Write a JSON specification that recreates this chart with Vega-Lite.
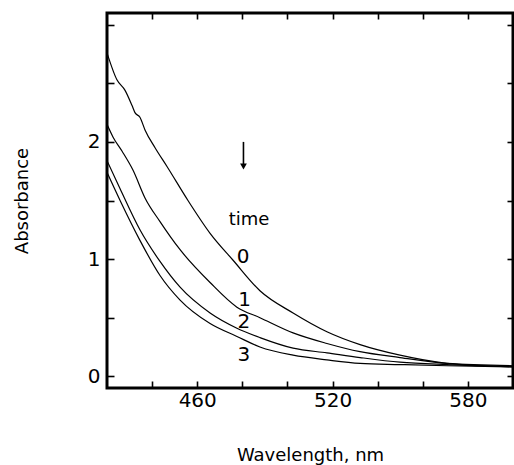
{
  "$schema": "https://vega.github.io/schema/vega-lite/v6.json",
  "autosize": "none",
  "width": 406,
  "height": 375,
  "padding": {"left": 107, "top": 13, "right": 1, "bottom": 77},
  "background": "white",
  "resolve": {"axis": {"x": "independent", "y": "independent"}},
  "config": {
    "view": {"stroke": "black", "strokeWidth": 3},
    "axis": {"grid": false, "domain": false, "tickColor": "black", "labelColor": "black", "titleColor": "black", "labelFont": "DejaVu Sans", "titleFont": "DejaVu Sans", "labelFontSize": 20, "titleFontSize": 18, "titleFontWeight": "normal", "tickWidth": 1.6}
  },
  "datasets": {
    "curves": [
      {"curve": "0", "nm": 420, "abs": 2.76}, {"curve": "0", "nm": 424.4, "abs": 2.53}, {"curve": "0", "nm": 428, "abs": 2.44}, {"curve": "0", "nm": 431.1, "abs": 2.31}, {"curve": "0", "nm": 432.4, "abs": 2.25}, {"curve": "0", "nm": 434.6, "abs": 2.21}, {"curve": "0", "nm": 436.9, "abs": 2.10}, {"curve": "0", "nm": 441.3, "abs": 1.95}, {"curve": "0", "nm": 446.6, "abs": 1.79}, {"curve": "0", "nm": 455.9, "abs": 1.50}, {"curve": "0", "nm": 465.7, "abs": 1.22}, {"curve": "0", "nm": 475.9, "abs": 0.99}, {"curve": "0", "nm": 487.8, "abs": 0.73}, {"curve": "0", "nm": 502.5, "abs": 0.54}, {"curve": "0", "nm": 517.5, "abs": 0.38}, {"curve": "0", "nm": 532.2, "abs": 0.27}, {"curve": "0", "nm": 549.9, "abs": 0.18}, {"curve": "0", "nm": 570.7, "abs": 0.11}, {"curve": "0", "nm": 585.4, "abs": 0.09}, {"curve": "0", "nm": 600, "abs": 0.08},
      {"curve": "1", "nm": 420, "abs": 2.15}, {"curve": "1", "nm": 422.7, "abs": 2.04}, {"curve": "1", "nm": 426.7, "abs": 1.92}, {"curve": "1", "nm": 431.5, "abs": 1.76}, {"curve": "1", "nm": 436.9, "abs": 1.52}, {"curve": "1", "nm": 443.5, "abs": 1.32}, {"curve": "1", "nm": 452.4, "abs": 1.08}, {"curve": "1", "nm": 465.7, "abs": 0.80}, {"curve": "1", "nm": 477.6, "abs": 0.59}, {"curve": "1", "nm": 487.8, "abs": 0.50}, {"curve": "1", "nm": 502.5, "abs": 0.37}, {"curve": "1", "nm": 517.5, "abs": 0.28}, {"curve": "1", "nm": 532.2, "abs": 0.21}, {"curve": "1", "nm": 549.9, "abs": 0.16}, {"curve": "1", "nm": 570.7, "abs": 0.11}, {"curve": "1", "nm": 600, "abs": 0.09},
      {"curve": "2", "nm": 420, "abs": 1.84}, {"curve": "2", "nm": 425.8, "abs": 1.60}, {"curve": "2", "nm": 434.6, "abs": 1.25}, {"curve": "2", "nm": 443.5, "abs": 0.98}, {"curve": "2", "nm": 452.4, "abs": 0.76}, {"curve": "2", "nm": 465.7, "abs": 0.54}, {"curve": "2", "nm": 477.6, "abs": 0.41}, {"curve": "2", "nm": 487.8, "abs": 0.33}, {"curve": "2", "nm": 502.5, "abs": 0.24}, {"curve": "2", "nm": 517.5, "abs": 0.20}, {"curve": "2", "nm": 532.2, "abs": 0.16}, {"curve": "2", "nm": 549.9, "abs": 0.12}, {"curve": "2", "nm": 570.7, "abs": 0.10}, {"curve": "2", "nm": 600, "abs": 0.085},
      {"curve": "3", "nm": 420, "abs": 1.74}, {"curve": "3", "nm": 425.8, "abs": 1.50}, {"curve": "3", "nm": 434.6, "abs": 1.16}, {"curve": "3", "nm": 443.5, "abs": 0.86}, {"curve": "3", "nm": 452.4, "abs": 0.65}, {"curve": "3", "nm": 465.7, "abs": 0.45}, {"curve": "3", "nm": 477.6, "abs": 0.34}, {"curve": "3", "nm": 487.8, "abs": 0.25}, {"curve": "3", "nm": 502.5, "abs": 0.18}, {"curve": "3", "nm": 517.5, "abs": 0.14}, {"curve": "3", "nm": 532.2, "abs": 0.11}, {"curve": "3", "nm": 549.9, "abs": 0.10}, {"curve": "3", "nm": 570.7, "abs": 0.09}, {"curve": "3", "nm": 600, "abs": 0.08}
    ],
    "labels": [
      {"text": "time", "nm": 483, "abs": 1.33, "size": 18},
      {"text": "0", "nm": 480.3, "abs": 1.02, "size": 20},
      {"text": "1", "nm": 481, "abs": 0.65, "size": 20},
      {"text": "2", "nm": 480.7, "abs": 0.46, "size": 20},
      {"text": "3", "nm": 480.7, "abs": 0.18, "size": 20}
    ],
    "arrow": [
      {"nm": 480.5, "top": 2.0, "bottom": 1.79}
    ]
  },
  "layer": [
    {
      "data": {"name": "curves"},
      "mark": {"type": "line", "color": "black", "strokeWidth": 1.2, "interpolate": "monotone", "clip": true},
      "encoding": {
        "x": {"field": "nm", "type": "quantitative", "scale": {"domain": [420, 600], "nice": false, "zero": false},
          "axis": {"orient": "bottom", "values": [460, 520, 580], "ticks": false, "labelPadding": 2, "labelFlush": false, "title": "Wavelength,   nm", "titlePadding": 36}},
        "y": {"field": "abs", "type": "quantitative", "scale": {"domain": [-0.1, 3.1], "nice": false, "zero": false},
          "axis": {"orient": "left", "values": [0, 1, 2], "format": "d", "ticks": false, "labelPadding": 7, "labelFlush": false, "title": "Absorbance", "titlePadding": 56}},
        "detail": {"field": "curve"}
      }
    },
    {
      "data": {"name": "labels"},
      "mark": {"type": "text", "font": "DejaVu Sans", "color": "black", "align": "center", "baseline": "middle"},
      "encoding": {
        "x": {"field": "nm", "type": "quantitative", "axis": {"orient": "top", "values": [440, 460, 480, 500, 520, 540, 560, 580], "labels": false, "tickSize": 6, "offset": -6, "title": null}},
        "y": {"field": "abs", "type": "quantitative", "axis": {"orient": "right", "values": [0, 0.5, 1, 1.5, 2, 2.5, 3], "labels": false, "tickSize": 6, "offset": -6, "title": null}},
        "text": {"field": "text"},
        "size": {"field": "size", "type": "quantitative", "scale": null, "legend": null}
      }
    },
    {
      "data": {"name": "arrow"},
      "mark": {"type": "rule", "color": "black", "strokeWidth": 1.6},
      "encoding": {
        "x": {"field": "nm", "type": "quantitative", "axis": {"orient": "bottom", "values": [440, 460, 480, 500, 520, 540, 560, 580], "labels": false, "tickSize": 7, "offset": -7, "title": null}},
        "y": {"field": "top", "type": "quantitative", "axis": {"orient": "left", "values": [0, 0.5, 1, 1.5, 2, 2.5, 3], "labels": false, "tickSize": 7, "offset": -7, "title": null}},
        "y2": {"field": "bottom"}
      }
    },
    {
      "data": {"name": "arrow"},
      "mark": {"type": "point", "shape": "triangle-down", "filled": true, "color": "black", "size": 45, "opacity": 1},
      "encoding": {
        "x": {"field": "nm", "type": "quantitative", "axis": null},
        "y": {"field": "bottom", "type": "quantitative", "axis": null}
      }
    }
  ]
}
